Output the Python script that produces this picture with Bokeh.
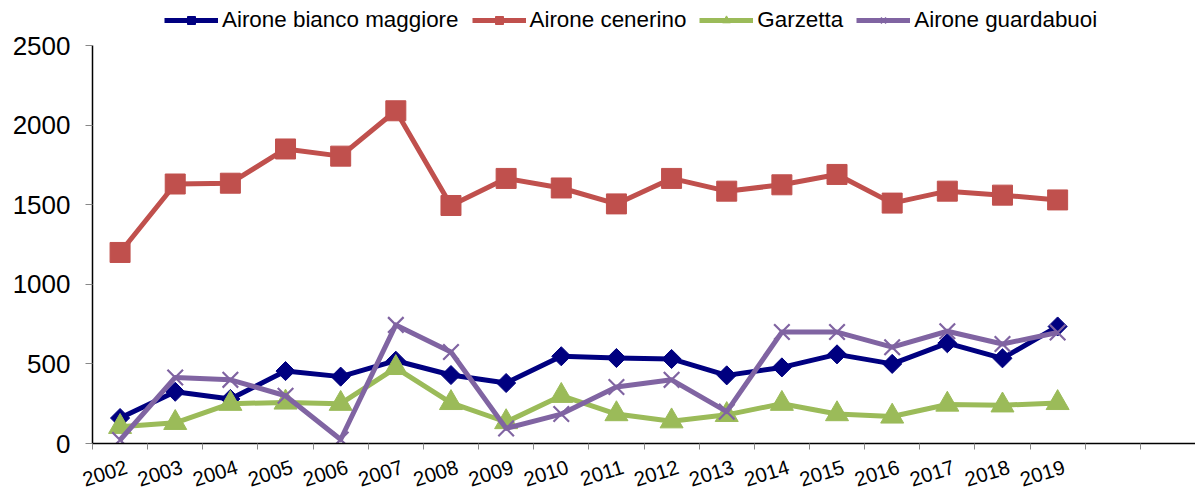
import numpy as np
from bokeh.plotting import figure
from bokeh.models import FixedTicker, Legend, LegendItem, Range1d
from bokeh.embed import file_html
from bokeh.resources import INLINE

years = ["2002", "2003", "2004", "2005", "2006", "2007", "2008", "2009", "2010",
         "2011", "2012", "2013", "2014", "2015", "2016", "2017", "2018", "2019"]
n_slots = 20  # two empty categories at the right end

bianco_maggiore = [160, 325, 280, 455, 420, 520, 430, 380, 548, 537, 531, 428, 478, 560, 500, 630, 535, 735]
cenerino = [1200, 1630, 1635, 1850, 1805, 2090, 1495, 1665, 1605, 1505, 1665, 1585, 1625, 1690, 1510, 1585, 1560, 1530]
garzetta = [105, 130, 250, 258, 250, 475, 255, 135, 300, 185, 140, 180, 250, 185, 170, 245, 240, 255]
guardabuoi = [22, 415, 400, 300, 25, 745, 575, 95, 185, 355, 400, 200, 700, 700, 605, 705, 625, 697]

series_names = ["Airone bianco maggiore", "Airone cenerino", "Garzetta", "Airone guardabuoi"]
y_ticks = [0, 500, 1000, 1500, 2000, 2500]
y_max = 2500

FONT = "Liberation Sans"

x = [i + 0.5 for i in range(len(years))]

# the frame reaches the top of the figure so that the legend (drawn inside the
# frame) sits above the 2500 line; the y axis itself is bounded to 0..2500
top_px = 45
frame_h = 443
y_end = y_max * frame_h / (frame_h - top_px)

p = figure(width=1195, height=500, output_backend="svg", toolbar_location=None,
           x_range=Range1d(0, n_slots), y_range=Range1d(0, y_end),
           min_border_left=92, min_border_right=0, min_border_top=0, min_border_bottom=57)
p.outline_line_color = None
p.grid.visible = False
p.background_fill_color = "white"
p.border_fill_color = "white"

styles = [
    dict(color="#000080", marker="square", size=13.5, angle=np.pi / 4),
    dict(color="#C0504D", marker="square", size=20, angle=0.0),
    dict(color="#9BBB59", marker="triangle", size=23, angle=0.0),
    dict(color="#8064A2", marker="x", size=22, angle=0.0),
]
data = [bianco_maggiore, cenerino, garzetta, guardabuoi]

items = []
for name, vals, st in zip(series_names, data, styles):
    lr = p.line(x, vals, line_color=st["color"], line_width=5, line_join="round")
    if st["marker"] == "x":
        sr = p.scatter(x, vals, marker="x", size=st["size"], line_color=st["color"], line_width=2.2)
    else:
        sr = p.scatter(x, vals, marker=st["marker"], size=st["size"], angle=st["angle"],
                       fill_color=st["color"], line_color=st["color"])
    items.append(LegendItem(label=name, renderers=[lr, sr]))

# axes: boundary ticks as minor ticks, labels on (slightly shifted) invisible major ticks
label_shift = 0.12
label_pos = [xi + label_shift for xi in x]
xa = p.xaxis[0]
xa.ticker = FixedTicker(ticks=label_pos, minor_ticks=list(range(n_slots + 1)))
xa.major_label_overrides = {xi: y for xi, y in zip(label_pos, years)}
xa.major_tick_line_color = None
xa.major_tick_out = 0
xa.major_tick_in = 0
xa.minor_tick_line_color = "#888888"
xa.minor_tick_out = 6
xa.minor_tick_in = 0
xa.axis_line_color = "black"
xa.axis_line_width = 1.5
xa.major_label_orientation = 0.3
xa.major_label_text_font = FONT
xa.major_label_text_font_size = "20.5px"
xa.major_label_text_color = "black"
xa.major_label_standoff = 17

ya = p.yaxis[0]
ya.ticker = FixedTicker(ticks=y_ticks)
ya.bounds = (0, y_max)
ya.minor_tick_line_color = None
ya.major_tick_line_color = "#888888"
ya.major_tick_out = 7
ya.major_tick_in = 0
ya.axis_line_color = "black"
ya.axis_line_width = 1.5
ya.major_label_text_font = FONT
ya.major_label_text_font_size = "26px"
ya.major_label_text_color = "black"
ya.major_label_standoff = 15

legend = Legend(items=items, orientation="horizontal", location=(72, 410),
                label_text_font=FONT, label_text_font_size="22.4px", label_text_color="black",
                glyph_width=54, glyph_height=20, label_height=20, label_standoff=4, spacing=13,
                padding=0, margin=0, border_line_color=None, background_fill_alpha=0)
p.add_layout(legend, "center")

open("out.html", "w").write(file_html(p, INLINE))
